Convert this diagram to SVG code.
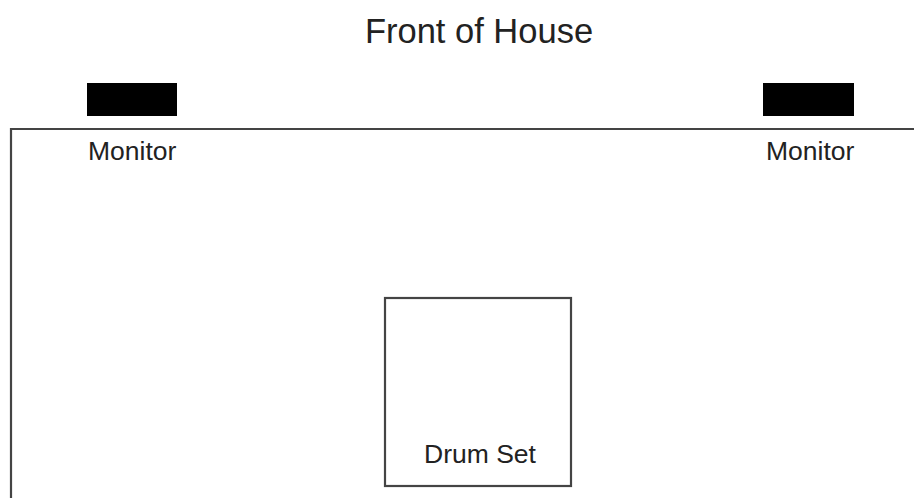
<svg xmlns="http://www.w3.org/2000/svg" width="914" height="498" viewBox="0 0 914 498">
<style>
text{font-family:"Liberation Sans",Arial,sans-serif;fill:#222}
.lbl{font-size:26.5px}
.mon{fill:#000}
.ln{fill:none;stroke:#444;stroke-width:2.2}
</style>
<rect width="914" height="498" fill="#fff"/>
<text x="479" y="43" font-size="34.5" text-anchor="middle">Front of House</text>
<g id="stage">
<path class="ln" d="M11,498 V129 H914"/>
</g>
<g id="monitor-left">
<rect class="mon" x="87" y="83" width="90" height="33"/>
<text class="lbl" x="88" y="160">Monitor</text>
</g>
<g id="monitor-right">
<rect class="mon" x="763" y="83" width="91" height="33"/>
<text class="lbl" x="766" y="160">Monitor</text>
</g>
<g id="drum-set">
<rect class="ln" x="385" y="298" width="186" height="188"/>
<text class="lbl" x="480" y="463" font-size="27" text-anchor="middle">Drum Set</text>
</g>
<g id="connectors"/>
</svg>
